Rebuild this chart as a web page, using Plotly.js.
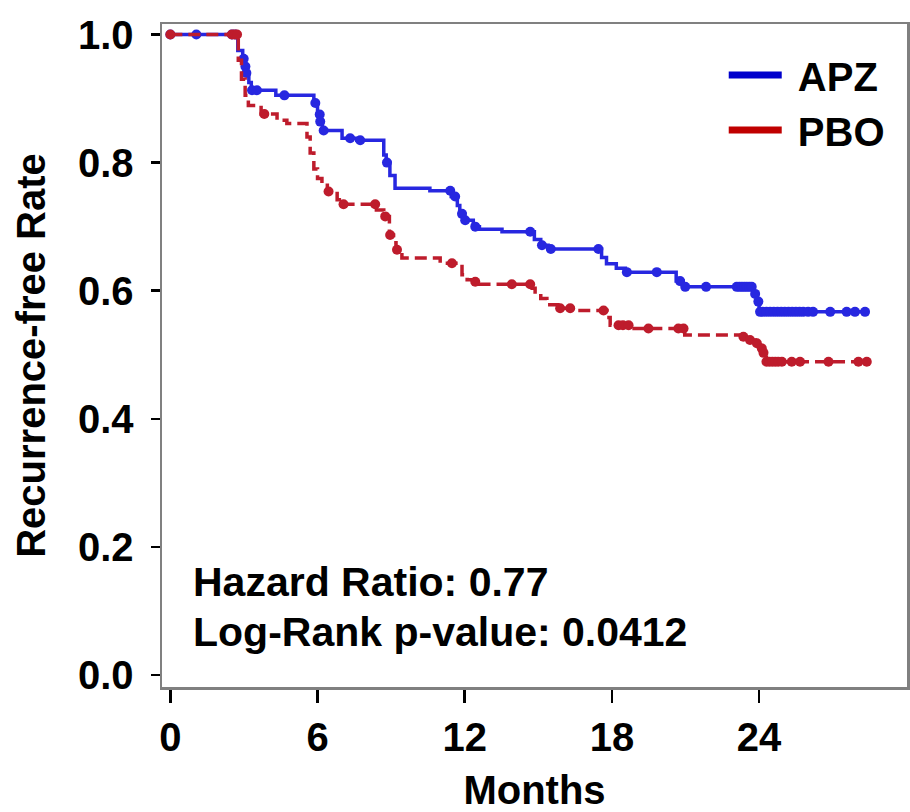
<!DOCTYPE html>
<html>
<head>
<meta charset="utf-8">
<script src="https://cdn.plot.ly/plotly-3.0.1.min.js"></script>
<style>html,body{margin:0;padding:0;background:#fff;}#chart{width:910px;height:812px;}</style>
</head>
<body>
<div id="chart"></div>
<script>
// ---- Data ----
var seriesNames = ["APZ", "PBO"];

// APZ Kaplan-Meier step curve (time in months, recurrence-free rate)
var apzTime = [0, 2.75, 2.95, 3.05, 3.1, 3.2, 3.3, 4.3, 5.85, 6.0, 6.1, 6.2, 7.0, 7.6, 8.7, 8.8, 8.95, 9.16, 10.58, 11.45, 11.7, 11.8, 12.0, 12.35, 12.6, 13.52, 14.84, 15.1, 15.4, 17.58, 17.78, 18.18, 18.55, 20.62, 20.9, 23.75, 23.9, 24.0, 28.32];
var apzRate = [1.0, 0.975, 0.962, 0.95, 0.94, 0.925, 0.913, 0.905, 0.893, 0.875, 0.864, 0.85, 0.838, 0.835, 0.812, 0.80, 0.78, 0.76, 0.756, 0.747, 0.733, 0.72, 0.71, 0.70, 0.696, 0.692, 0.68, 0.671, 0.665, 0.652, 0.642, 0.635, 0.629, 0.615, 0.606, 0.595, 0.583, 0.567, 0.567];
// APZ censoring times
var apzCensor = [0, 1.06, 2.51, 2.65, 2.99, 3.06, 3.10, 3.33, 3.53, 4.65, 5.91, 6.09, 6.11, 6.25, 7.33, 7.74, 8.83, 11.41, 11.61, 11.89, 12.02, 12.43, 14.67, 15.15, 15.51, 17.45, 18.61, 19.83, 20.78, 20.99, 21.84, 23.09, 23.2, 23.3, 23.4, 23.5, 23.6, 23.7, 23.84, 23.97, 24.04, 24.15, 24.3, 24.45, 24.6, 24.75, 24.9, 25.05, 25.2, 25.35, 25.5, 25.65, 25.8, 26.0, 26.2, 26.9, 27.57, 27.91, 28.32];

// PBO Kaplan-Meier step curve
var pboTime = [0, 2.77, 2.9, 3.05, 3.18, 3.7, 4.35, 4.75, 5.57, 5.7, 5.85, 6.0, 6.18, 6.4, 6.8, 7.0, 8.4, 8.7, 8.93, 9.1, 9.2, 9.44, 11.0, 11.89, 12.1, 12.4, 12.6, 14.75, 14.87, 15.1, 15.35, 15.8, 16.5, 17.8, 17.93, 18.7, 20.97, 23.3, 23.6, 23.85, 24.05, 24.15, 24.25, 24.3, 28.39];
var pboRate = [1.0, 0.96, 0.93, 0.905, 0.889, 0.876, 0.866, 0.861, 0.84, 0.815, 0.79, 0.775, 0.768, 0.755, 0.742, 0.735, 0.726, 0.716, 0.687, 0.675, 0.664, 0.651, 0.643, 0.625, 0.617, 0.614, 0.61, 0.604, 0.598, 0.588, 0.578, 0.5725, 0.569, 0.558, 0.546, 0.541, 0.531, 0.528, 0.523, 0.518, 0.51, 0.503, 0.496, 0.489, 0.489];
// PBO censoring times
var pboCensor = [0, 2.51, 2.62, 2.72, 3.83, 6.45, 7.06, 8.35, 8.76, 8.96, 9.24, 11.48, 12.43, 13.92, 14.67, 15.89, 16.3, 17.66, 18.27, 18.45, 18.68, 19.49, 20.71, 20.92, 23.36, 23.63, 23.91, 24.11, 24.18, 24.3, 24.42, 24.54, 24.66, 24.78, 24.93, 25.33, 25.67, 26.83, 28.05, 28.39];

var xTicks = [0, 6, 12, 18, 24];
var yTicks = [0.0, 0.2, 0.4, 0.6, 0.8, 1.0];
var yTickLabels = ["0.0", "0.2", "0.4", "0.6", "0.8", "1.0"];
var statLines = ["Hazard Ratio: 0.77", "Log-Rank p-value: 0.0412"];

// ---- Helpers ----
function stepAt(ts, vs, t) {
  var v = vs[0];
  for (var i = 0; i < ts.length; i++) { if (ts[i] <= t + 1e-9) v = vs[i]; }
  return v;
}

var FONT = '"Liberation Sans", Arial, Helvetica, sans-serif';
var apzColor = '#2727e0', pboColor = '#be1c2c';
var apzLegend = '#0000cc', pboLegend = '#c00000';

var traces = [
  {x: apzTime, y: apzRate, mode: 'lines', line: {shape: 'hv', color: apzColor, width: 3.5}, showlegend: false, hoverinfo: 'skip'},
  {x: apzCensor, y: apzCensor.map(function(t){return stepAt(apzTime, apzRate, t);}), mode: 'markers',
   marker: {symbol: 'circle', size: 10, color: apzColor}, showlegend: false, hoverinfo: 'skip'},
  {x: pboTime, y: pboRate, mode: 'lines', line: {shape: 'hv', color: pboColor, width: 3.5, dash: '12px,6px'}, showlegend: false, hoverinfo: 'skip'},
  {x: pboCensor, y: pboCensor.map(function(t){return stepAt(pboTime, pboRate, t);}), mode: 'markers',
   marker: {symbol: 'circle', size: 10, color: pboColor}, showlegend: false, hoverinfo: 'skip'},
  {x: [null], y: [null], mode: 'lines', name: '\u00a0' + seriesNames[0], line: {color: apzLegend, width: 7}},
  {x: [null], y: [null], mode: 'lines', name: '\u00a0' + seriesNames[1], line: {color: pboLegend, width: 7}}
];

var layout = {
  width: 910, height: 812,
  margin: {l: 162, r: 3, t: 24, b: 125},
  paper_bgcolor: '#ffffff', plot_bgcolor: '#ffffff',
  font: {family: FONT, size: 40, color: '#000', weight: 'bold'},
  showlegend: true,
  legend: {x: 0.754, y: 0.972, xanchor: 'left', yanchor: 'top', bgcolor: 'rgba(0,0,0,0)',
           font: {family: FONT, size: 40, color: '#000', weight: 'bold'}, itemwidth: 53, tracegroupgap: 0},
  xaxis: {
    range: [-0.34, 30.03], tickvals: xTicks, ticktext: xTicks.map(String),
    ticks: 'outside', ticklen: 13, tickwidth: 2.5, tickcolor: '#000',
    showline: true, mirror: true, linecolor: '#808080', linewidth: 2.5,
    showgrid: false, zeroline: false, ticklabelstandoff: 0,
    tickfont: {family: FONT, size: 40, color: '#000', weight: 'bold'},
    title: {text: 'Months', standoff: 32, font: {family: FONT, size: 40, color: '#000', weight: 'bold'}}
  },
  yaxis: {
    range: [-0.0187, 1.0164], tickvals: yTicks, ticktext: yTickLabels,
    ticks: 'outside', ticklen: 9, tickwidth: 2.5, tickcolor: '#000',
    showline: true, mirror: true, linecolor: '#808080', linewidth: 2.5,
    showgrid: false, zeroline: false, ticklabelstandoff: 9,
    tickfont: {family: FONT, size: 40, color: '#000', weight: 'bold'},
    title: {text: 'Recurrence-free Rate', standoff: 20, font: {family: FONT, size: 40, color: '#000', weight: 'bold'}}
  },
  annotations: [
    {xref: 'paper', yref: 'paper', x: 0.039, y: 0.158, xanchor: 'left', yanchor: 'middle', showarrow: false,
     text: statLines[0], font: {family: FONT, size: 41, color: '#000', weight: 'bold'}},
    {xref: 'paper', yref: 'paper', x: 0.039, y: 0.083, xanchor: 'left', yanchor: 'middle', showarrow: false,
     text: statLines[1], font: {family: FONT, size: 41, color: '#000', weight: 'bold'}}
  ]
};

Plotly.newPlot('chart', traces, layout, {displayModeBar: false, staticPlot: true});
</script>
</body>
</html>
